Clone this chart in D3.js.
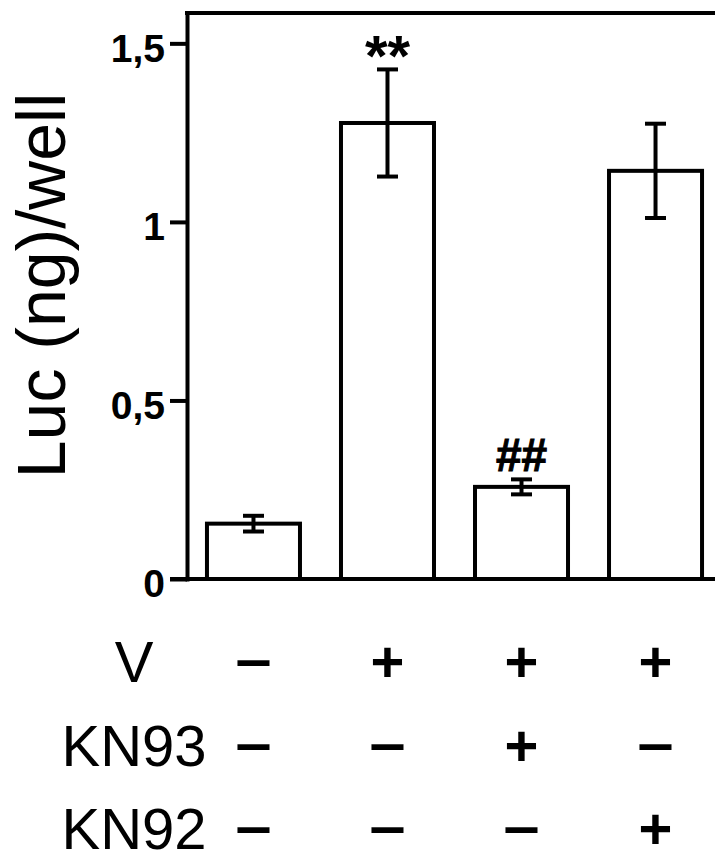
<!DOCTYPE html>
<html>
<head>
<meta charset="utf-8">
<script src="https://cdn.jsdelivr.net/npm/d3@7"></script>
<style>
  body { margin: 0; background: #fff; }
  svg { display: block; font-family: "Liberation Sans", Arial, sans-serif; }
</style>
</head>
<body>
<svg id="chart" width="715" height="850"></svg>
<script>
// data
var groups = ["ctrl", "V", "V+KN93", "V+KN92"];
var means = [0.155, 1.277, 0.258, 1.143];
var errors = [0.022, 0.15, 0.021, 0.132];
var marks = ["", "**", "##", ""];
var yTicks = [0, 0.5, 1, 1.5];
var yTickLabels = ["0", "0,5", "1", "1,5"];
var conditions = ["V", "KN93", "KN92"];
var signsV = ["\u2013", "+", "+", "+"];
var signsKN93 = ["\u2013", "\u2013", "+", "\u2013"];
var signsKN92 = ["\u2013", "\u2013", "\u2013", "+"];
var yMax = 1.585;

var svg = d3.select("#chart"),
    plotLeft = 187, plotRight = 722, plotTop = 13, plotBottom = 579;

var x = d3.scaleBand().domain(groups).range([plotLeft, plotRight]).paddingInner(0.306).paddingOuter(0.149),
    y = d3.scaleLinear().domain([0, yMax]).range([plotBottom, plotTop]);

var data = groups.map(function(g, i) {
  return {group: g, mean: means[i], err: errors[i], mark: marks[i]};
});

//bars
svg.selectAll(".bar")
    .data(data)
  .enter().append("rect")
    .attr("class", "bar")
    .attr("x", function(d) { return x(d.group); })
    .attr("y", function(d) { return y(d.mean); })
    .attr("width", x.bandwidth())
    .attr("height", function(d) { return y(0) - y(d.mean); })
    .attr("fill", "#fff")
    .attr("stroke", "#000")
    .attr("stroke-width", 4);

//error bars
var cx = function(d) { return x(d.group) + x.bandwidth() / 2; };
var eb = svg.selectAll(".err").data(data).enter().append("g").attr("class", "err")
    .attr("stroke", "#000").attr("stroke-width", 4);
eb.append("line")
    .attr("x1", cx).attr("x2", cx)
    .attr("y1", function(d) { return y(d.mean + d.err); })
    .attr("y2", function(d) { return y(d.mean - d.err); });
eb.append("line")
    .attr("x1", function(d) { return cx(d) - 10.5; }).attr("x2", function(d) { return cx(d) + 10.5; })
    .attr("y1", function(d) { return y(d.mean + d.err); })
    .attr("y2", function(d) { return y(d.mean + d.err); });
eb.append("line")
    .attr("x1", function(d) { return cx(d) - 10.5; }).attr("x2", function(d) { return cx(d) + 10.5; })
    .attr("y1", function(d) { return y(d.mean - d.err); })
    .attr("y2", function(d) { return y(d.mean - d.err); });

//significance marks
svg.selectAll(".mark")
    .data(data.filter(function(d) { return d.mark; }))
  .enter().append("text")
    .attr("class", "mark")
    .attr("x", cx)
    .attr("y", function(d) { return y(d.mean + d.err) + (d.mark == "**" ? 7 : -8); })
    .attr("text-anchor", "middle")
    .attr("font-weight", "bold")
    .attr("font-size", function(d) { return d.mark == "**" ? 58 : 46; })
    .attr("stroke", function(d) { return d.mark == "##" ? "#000" : null; })
    .attr("stroke-width", 1)
    .text(function(d) { return d.mark; });

//frame: bottom and top lines
svg.append("line")
    .attr("x1", plotLeft - 17).attr("x2", 715)
    .attr("y1", y(0)).attr("y2", y(0))
    .attr("stroke", "#000").attr("stroke-width", 4);
svg.append("line")
    .attr("x1", plotLeft).attr("x2", 715)
    .attr("y1", y(yMax)).attr("y2", y(yMax))
    .attr("stroke", "#000").attr("stroke-width", 4)
    .attr("stroke-linecap", "square");

//y axis
var yAxis = svg.append("g")
    .attr("transform", "translate(" + plotLeft + ",0)")
    .call(d3.axisLeft(y).tickValues(yTicks).tickSize(17).tickSizeOuter(0).tickPadding(5)
      .tickFormat(function(d, i) { return yTickLabels[i]; }));
yAxis.select(".domain").attr("stroke-width", 4).attr("stroke-linecap", "square");
yAxis.selectAll(".tick line").attr("stroke-width", 4);
yAxis.selectAll(".tick text")
    .attr("font-family", "Liberation Sans, Arial, sans-serif")
    .attr("font-size", 39)
    .attr("font-weight", "bold")
    .attr("dy", "0.46em");

svg.append("text")
    .attr("transform", "translate(65," + 285.5 + ") rotate(-90)")
    .attr("text-anchor", "middle")
    .attr("font-size", 68)
    .text("Luc (ng)/well");

//treatment table below the bars
var row = d3.scalePoint().domain(conditions).range([682, 849]);
var signs = {V: signsV, KN93: signsKN93, KN92: signsKN92};

svg.selectAll(".rowlabel")
    .data(conditions)
  .enter().append("text")
    .attr("class", "rowlabel")
    .attr("x", 134)
    .attr("y", function(d) { return row(d); })
    .attr("text-anchor", "middle")
    .attr("font-size", 58)
    .text(function(d) { return d; });

conditions.forEach(function(c) {
  var s = svg.selectAll(".sign-" + c)
      .data(signs[c])
    .enter().append("text")
      .attr("class", "sign-" + c)
      .attr("x", function(d, i) { return x(groups[i]) + x.bandwidth() / 2; })
      .attr("y", function(d) { return row(c) + (d == "+" ? 0 : -3); })
      .attr("text-anchor", "middle")
      .attr("font-size", 58)
      .attr("font-weight", "bold")
      .text(function(d) { return d; });
  s.filter(function(d) { return d != "+"; })
      .attr("textLength", 36)
      .attr("lengthAdjust", "spacingAndGlyphs");
});
</script>
</body>
</html>
